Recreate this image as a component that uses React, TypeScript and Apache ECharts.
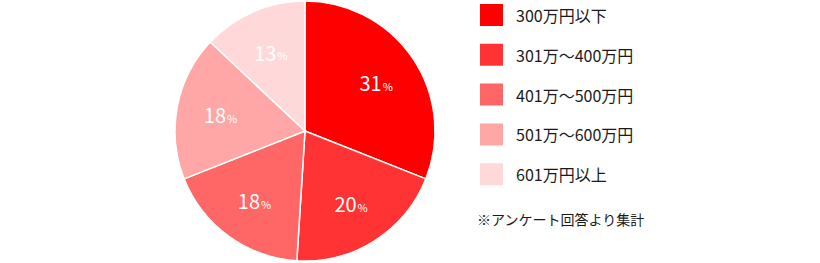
import React, { useEffect, useRef } from "react";
import * as echarts from "echarts";

const categories = ["300万円以下", "301万～400万円", "401万～500万円", "501万～600万円", "601万円以上"];
const values = [31, 20, 18, 18, 13];
const colors = ["#ff0000", "#ff3333", "#ff6666", "#ffa6a6", "#ffd9d9"];
const note = "※アンケート回答より集計";

export default function App() {
  const ref = useRef<HTMLDivElement>(null);
  useEffect(() => {
    document.body.style.margin = "0";
    const chart = echarts.init(ref.current!, null, { renderer: "svg" });
    const font = "'Noto Sans CJK JP', 'Noto Sans', sans-serif";
    const data = categories.map((name, i) => ({ name, value: values[i], itemStyle: { color: colors[i] } }));
    chart.setOption({
      animation: false,
      textStyle: { fontFamily: font },
      legend: {
        orient: "vertical",
        left: 478,
        top: 2,
        padding: 0,
        itemWidth: 25,
        itemHeight: 24,
        itemGap: 13.8,
        icon: "rect",
        selectedMode: false,
        data: categories,
        textStyle: { fontSize: 16, color: "#1a1a1a", fontFamily: font, padding: [0, 0, 0, 7], lineHeight: 24 },
      },
      graphic: [
        {
          type: "text",
          left: 477,
          top: 212,
          style: { text: note, fontSize: 14, fill: "#1a1a1a", fontFamily: font },
        },
      ],
      series: [
        {
          type: "pie",
          center: [305, 131],
          radius: [0, 130],
          data,
          label: { show: false },
          labelLine: { show: false },
          itemStyle: { borderColor: "#ffffff", borderWidth: 1.5 },
          silent: true,
        },
        {
          type: "pie",
          center: [305, 131],
          radius: [36, 130],
          data: categories.map((name, i) => ({ name, value: values[i] })),
          itemStyle: { color: "rgba(0,0,0,0)" },
          silent: true,
          legendHoverLink: false,
          label: {
            show: true,
            position: "inside",
            formatter: "{a|{c}}{b|%}",
            rich: {
              a: { fontSize: 20, color: "#ffffff", fontFamily: font },
              b: { fontSize: 11, color: "#ffffff", fontFamily: font, padding: [6, 0, 0, 1] },
            },
          },
          labelLine: { show: false },
        },
      ],
    });
    return () => chart.dispose();
  }, []);
  return <div ref={ref} style={{ width: 820, height: 263 }} />;
}
